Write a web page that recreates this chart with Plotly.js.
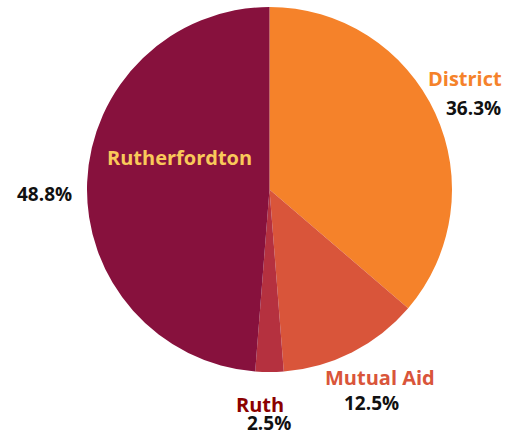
<!DOCTYPE html>
<html>
<head>
<meta charset="utf-8">
<script src="https://cdn.plot.ly/plotly-3.0.1.min.js"></script>
<style>html,body{margin:0;padding:0;background:#fff;}#chart{width:515px;height:439px;}</style>
</head>
<body>
<div id="chart"></div>
<script>
const categories = ["District", "Mutual Aid", "Ruth", "Rutherfordton"];
const shares = [36.3, 12.5, 2.5, 48.8];
const sliceColors = ["#F5822A", "#D9553A", "#B5313F", "#87113D"];
const labelColors = ["#F5822A", "#D9553A", "#8B0000", "#F9C95A"];

// label placement (pixel centres) for the name and the percentage of each slice
const namePos = [[465, 78], [380, 377], [260, 404], [179, 157]];
const pctPos = [[473, 108], [371, 403], [269, 423], [44, 194]];

const W = 515, H = 439;
const px = x => x / W;
const py = y => 1 - y / H;

const annotations = [];
categories.forEach((c, i) => {
  annotations.push({
    text: "<b>" + c + "</b>", x: px(namePos[i][0]), y: py(namePos[i][1]),
    xref: "paper", yref: "paper", showarrow: false, xanchor: "center", yanchor: "middle",
    font: {family: "Open Sans", size: 20, color: labelColors[i]}
  });
  annotations.push({
    text: "<b>" + shares[i].toFixed(1) + "%</b>", x: px(pctPos[i][0]), y: py(pctPos[i][1]),
    xref: "paper", yref: "paper", showarrow: false, xanchor: "center", yanchor: "middle",
    font: {family: "Open Sans", size: 19, color: "#111111"}
  });
});

const data = [{
  type: "pie",
  labels: categories,
  values: shares,
  sort: false,
  direction: "clockwise",
  rotation: 0,
  textinfo: "none",
  hoverinfo: "label+percent",
  marker: {colors: sliceColors, line: {width: 0}},
  domain: {x: [86.5 / W, 452.5 / W], y: [1 - 372 / H, 1 - 7 / H]},
  showlegend: false
}];

const layout = {
  width: W, height: H,
  margin: {l: 0, r: 0, t: 0, b: 0},
  paper_bgcolor: "#ffffff",
  showlegend: false,
  annotations: annotations
};

Plotly.newPlot("chart", data, layout, {displayModeBar: false, staticPlot: true});
</script>
</body>
</html>
